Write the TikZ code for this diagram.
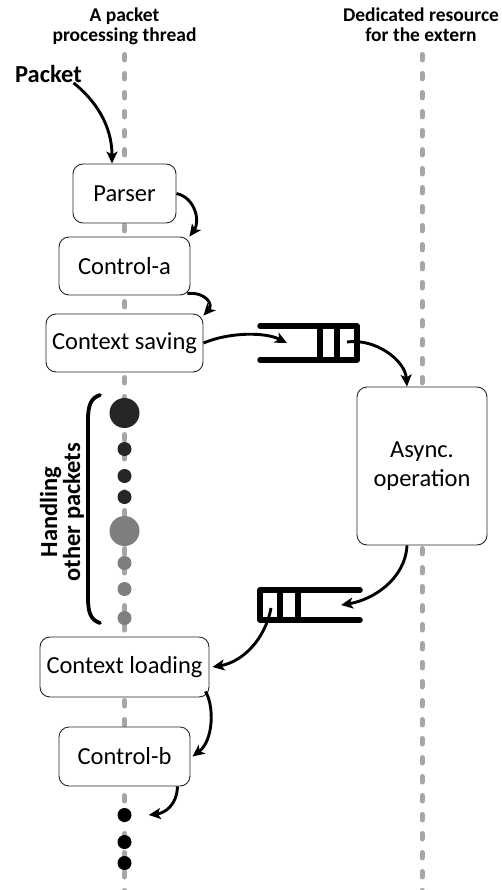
\documentclass[tikz,border=0pt]{standalone}
\usepackage{fontspec}
\setmainfont{Carlito}
\usetikzlibrary{arrows.meta}
\definecolor{guide}{HTML}{A6A6A6}
\definecolor{darkdot}{HTML}{262626}
\definecolor{graydot}{HTML}{7F7F7F}

\begin{document}
\begin{tikzpicture}[x=1pt,y=-1pt,
  stage/.style={draw=black!85, line width=0.9pt, fill=white, rounded corners=10pt,
    inner sep=0pt, font=\fontsize{24.5}{29}\selectfont, align=center},
  guideline/.style={guide, line width=5pt, line cap=round, dash pattern=on 5.5pt off 13.5pt},
  flow/.style={line width=2.9pt, -{Stealth[length=12pt,width=11pt,inset=3pt]}},
  queue/.style={line width=5.5pt, line cap=round, line join=round},
  head/.style={font=\bfseries\fontsize{19.5}{20}\selectfont, align=center, inner sep=0pt},
  smalldot/.style={circle, inner sep=0pt, minimum size=14pt},
  bigdot/.style={circle, inner sep=0pt, minimum size=30pt},
]
% canvas
\fill[white] (0,0) rectangle (502,890);
\useasboundingbox (0,0) rectangle (502,890);

% timelines
\draw[guideline] (124.5,54.5) -- (124.5,893);
\draw[guideline] (422,54.5) -- (422,893);

% column titles
\node[head, anchor=north] (thread) at (124.5,8) {A packet\\processing thread};
\node[head, anchor=north] (extern) at (421,8) {Dedicated resource\\for the extern};

% incoming packet
\node[font=\bfseries\fontsize{24.5}{28}\selectfont, inner sep=0pt] (pkt) at (48.5,74) {Packet};

% pipeline stages
\node[stage, minimum width=103pt, minimum height=59pt] (parser) at (124.5,193.5) {Parser};
\node[stage, minimum width=131pt, minimum height=58pt] (ctrla) at (124.5,266) {Control-a};
\node[stage, minimum width=157pt, minimum height=58pt] (csave) at (124.5,343) {Context saving};
\node[stage, minimum width=130pt, minimum height=158pt] (async) at (422,466) {Async.\\operation};
\node[stage, minimum width=169pt, minimum height=60pt] (cload) at (124.5,667) {Context loading};
\node[stage, minimum width=131pt, minimum height=59pt] (ctrlb) at (124.5,756.5) {Control-b};

% request queue
\draw[queue] (260,326) -- (357,326) -- (357,360) -- (260,360);
\draw[queue] (320,326) -- (320,360) (337,326) -- (337,360);
\coordinate (q1in) at (287,343);
\coordinate (q1out) at (347,342);

% response queue
\draw[queue] (360,590) -- (260,590) -- (260,620) -- (360,620);
\draw[queue] (280,590) -- (280,620) (298,590) -- (298,620);
\coordinate (q2in) at (341,605);
\coordinate (q2out) at (271,608);

% other packets handled meanwhile
\node[bigdot, fill=darkdot] (o1) at (124.5,413) {};
\node[smalldot, fill=darkdot] (o2) at (124.5,449) {};
\node[smalldot, fill=darkdot] (o3) at (124.5,476) {};
\node[smalldot, fill=darkdot] (o4) at (124.5,497) {};
\node[bigdot, fill=graydot] (o5) at (124.5,531) {};
\node[smalldot, fill=graydot] (o6) at (124.5,563) {};
\node[smalldot, fill=graydot] (o7) at (124.5,589) {};
\node[smalldot, fill=graydot] (o8) at (124.5,618) {};

\draw[line width=3.8pt, line cap=round] (100,395) .. controls (91,398) and (88,405) .. (88,420)
  -- (88,598) .. controls (88,613) and (91,620) .. (100,623);
\node[font=\bfseries\fontsize{24.5}{23}\selectfont, align=center, rotate=90, inner sep=0pt]
  (others) at (62,512) {Handling\\other packets};

% continuation
\node[smalldot, fill=black] (d1) at (124.5,815) {};
\node[smalldot, fill=black] (d2) at (124.5,842) {};
\node[smalldot, fill=black] (d3) at (124.5,863) {};

% flow arrows
\draw[flow] ([xshift=-8.5pt]pkt.south east) .. controls (95,100) and (112,125) .. ([xshift=-12.5pt]parser.north);
\draw[flow] (parser.east) .. controls (196,198) and (200,222) .. ([xshift=-1pt]ctrla.north east);
\draw[flow] ([xshift=-3pt,yshift=2pt]ctrla.south east) .. controls (207,292) and (213,305) .. ([yshift=-2pt]csave.north east);
\draw[flow] (csave.east) .. controls (230,332) and (265,332) .. (q1in);
\draw[flow] (q1out) .. controls (375,338) and (405,360) .. ([xshift=-15pt]async.north);
\draw[flow] ([xshift=-15pt]async.south) .. controls (405,580) and (372,600) .. (q2in);
\draw[flow] (q2out) .. controls (265,640) and (242,662) .. ([xshift=3pt]cload.east);
\draw[flow] ([xshift=-4pt,yshift=6pt]cload.south east) .. controls (214,705) and (214,740) .. ([xshift=2pt]ctrlb.east);
\draw[flow] ([xshift=-13pt]ctrlb.south east) .. controls (177,805) and (165,813) .. ([xshift=17pt]d1.east);
\end{tikzpicture}
\end{document}
